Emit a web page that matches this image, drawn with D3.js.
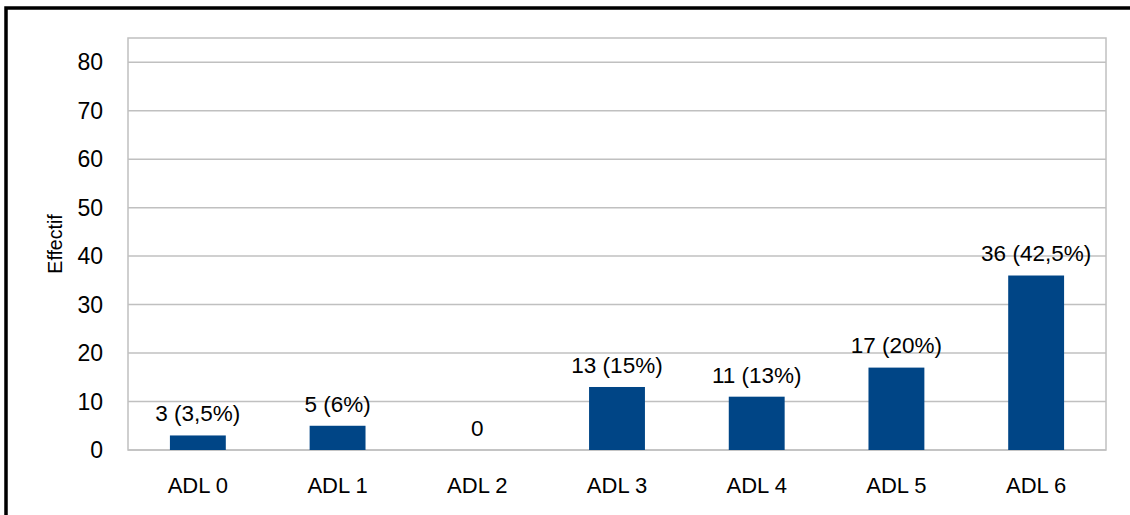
<!DOCTYPE html>
<html>
<head>
<meta charset="utf-8">
<script src="https://cdn.jsdelivr.net/npm/d3@7"></script>
<style>
  body { margin: 0; background: #fff; }
  svg { display: block; font-family: "Liberation Sans", Arial, sans-serif; }
</style>
</head>
<body>
<div id="chart"></div>
<script>
// ADL score distribution
const categories = ["ADL 0", "ADL 1", "ADL 2", "ADL 3", "ADL 4", "ADL 5", "ADL 6"];
const counts = [3, 5, 0, 13, 11, 17, 36];
const labels = ["3 (3,5%)", "5 (6%)", "0", "13 (15%)", "11 (13%)", "17 (20%)", "36 (42,5%)"];
const yTicks = [0, 10, 20, 30, 40, 50, 60, 70, 80];

const W = 1130, H = 515;
const margin = { top: 38, right: 24, bottom: 65, left: 128 };
const width = W - margin.left - margin.right;
const height = H - margin.top - margin.bottom;

const svg = d3.select("#chart").append("svg")
    .attr("width", W).attr("height", H);

// outer frame
svg.append("rect")
    .attr("x", 6).attr("y", 8)
    .attr("width", W + 20).attr("height", H + 20)
    .attr("fill", "none").attr("stroke", "#000").attr("stroke-width", 3.5);

const g = svg.append("g").attr("transform", `translate(${margin.left},${margin.top})`);

const x = d3.scaleBand().domain(categories).range([0, width]).paddingInner(0.6).paddingOuter(0.3);
const y = d3.scaleLinear().domain([0, 85]).range([height, 0]);

// gridlines
g.append("g").selectAll("line")
    .data(yTicks)
    .join("line")
    .attr("x1", 0).attr("x2", width)
    .attr("y1", d => y(d)).attr("y2", d => y(d))
    .attr("stroke", "#c0c0c0").attr("stroke-width", 1.5);

// plot frame
g.append("rect")
    .attr("x", 0).attr("y", 0).attr("width", width).attr("height", height)
    .attr("fill", "none").attr("stroke", "#c0c0c0").attr("stroke-width", 1.5);

// y axis labels
g.append("g").selectAll("text")
    .data(yTicks)
    .join("text")
    .attr("x", -25).attr("y", d => y(d))
    .attr("dy", "0.35em")
    .attr("text-anchor", "end")
    .attr("font-size", 23)
    .attr("fill", "#000")
    .text(d => d);

// y title
svg.append("text")
    .attr("transform", `translate(62,${margin.top + height / 2}) rotate(-90)`)
    .attr("text-anchor", "middle")
    .attr("font-size", 19.5)
    .text("Effectif");

// bars
g.append("g").selectAll("rect")
    .data(counts)
    .join("rect")
    .attr("x", (d, i) => x(categories[i]))
    .attr("y", d => y(d))
    .attr("width", x.bandwidth())
    .attr("height", d => height - y(d))
    .attr("fill", "#004586");

// value labels
g.append("g").selectAll("text")
    .data(counts)
    .join("text")
    .attr("x", (d, i) => x(categories[i]) + x.bandwidth() / 2)
    .attr("y", d => y(d) - 22)
    .attr("dy", "0.35em")
    .attr("text-anchor", "middle")
    .attr("font-size", 22.5)
    .text((d, i) => labels[i]);

// category labels
g.append("g").selectAll("text")
    .data(categories)
    .join("text")
    .attr("x", d => x(d) + x.bandwidth() / 2)
    .attr("y", height + 35)
    .attr("dy", "0.35em")
    .attr("text-anchor", "middle")
    .attr("font-size", 22)
    .text(d => d);
</script>
</body>
</html>
